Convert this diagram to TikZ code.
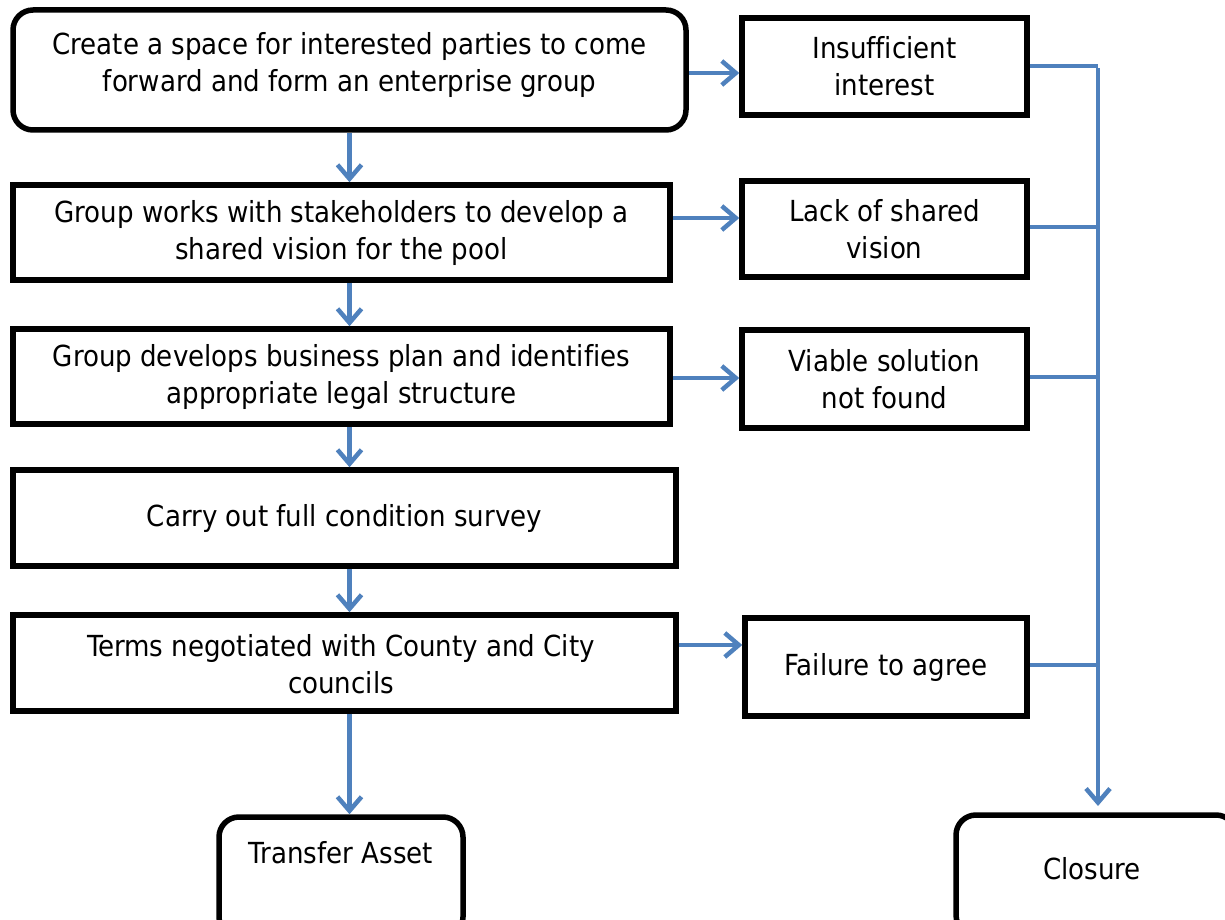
\documentclass[tikz,border=0pt]{standalone}
\usepackage{fontspec}
\setmainfont[Ligatures=NoCommon]{DejaVu Sans Condensed}
\usetikzlibrary{arrows.meta}
\definecolor{flowblue}{HTML}{4F81BD}
\begin{document}
\begin{tikzpicture}[x=1pt,y=-1pt,
  box/.style={draw=black,line width=5.5pt,fill=white,inner sep=0pt,font=\fontsize{29}{37}\selectfont,align=center},
  rbox/.style={box,rounded corners=20pt},
  txt/.style={inner sep=0pt,font=\fontsize{29}{37}\selectfont,align=center},
  flow/.style={draw=flowblue,line width=4.5pt,-{Straight Barb[length=14pt,width=24pt,line width=4.5pt]}},
  link/.style={draw=flowblue,line width=4.5pt}]
\useasboundingbox (0,0) rectangle (1225,920);
% main column
\node[rbox,minimum width=673pt,minimum height=120pt] (b1) at (349.5,70) {};
\node[txt] (t1) at (349.5,65) {Create a space for interested parties to come\\forward and form an enterprise group};
\node[box,minimum width=657pt,minimum height=95pt] (b2) at (341.5,232.5) {Group works with stakeholders to develop a\\shared vision for the pool};
\node[box,minimum width=657pt,minimum height=95pt] (b3) at (341.5,376.5) {Group develops business plan and identifies\\appropriate legal structure};
\node[box,minimum width=663pt,minimum height=96pt] (b4) at (344.5,518) {Carry out full condition survey};
\node[box,minimum width=663pt,minimum height=96pt] (b5) at (344.5,663) {};
\node[txt] (t5) at (341,664) {Terms negotiated with County and City\\councils};
\node[rbox,minimum width=244pt,minimum height=120pt] (ta) at (341,877) {};
\node[txt] (tat) at (341,853) {Transfer Asset};
% right column
\node[box,minimum width=285pt,minimum height=97pt] (r1) at (884.5,66.5) {Insufficient\\interest};
\node[box,minimum width=285pt,minimum height=96pt] (r2) at (884.5,229) {Lack of shared\\vision};
\node[box,minimum width=285pt,minimum height=98pt] (r3) at (884.5,379) {Viable solution\\not found};
\node[box,minimum width=282pt,minimum height=98pt] (r5) at (886,667) {Failure to agree};
\node[rbox,minimum width=280pt,minimum height=120pt] (cl) at (1096,875) {};
\node[txt] (clt) at (1092,869) {Closure};
% vertical arrows
\draw[flow] (b1.south -| t1) -- (b2.north -| t1);
\draw[flow] (b2.south -| t1) -- (b3.north -| t1);
\draw[flow] (b3.south -| t1) -- (b4.north -| t1);
\draw[flow] (b4.south -| t1) -- (b5.north -| t1);
\draw[flow] (b5.south -| t1) -- (ta.north -| t1);
% horizontal arrows
\draw[flow] (b1.east |- 0,73) -- (r1.west |- 0,73);
\draw[flow] (b2.east |- 0,218) -- (r2.west |- 0,218);
\draw[flow] (b3.east |- 0,378) -- (r3.west |- 0,378);
\draw[flow] (b5.east |- 0,645) -- (r5.west |- 0,645);
% collector
\coordinate (c1) at (1098,66);
\coordinate (cb) at (1098,806);
\draw[link] (r1.east |- c1) -- (c1);
\draw[flow] ([yshift=-2.25pt]c1) -- (cb);
\draw[link] (r2.east |- 0,227) -- (1098,227);
\draw[link] (r3.east |- 0,377) -- (1098,377);
\draw[link] (r5.east |- 0,665) -- (1098,665);
\end{tikzpicture}
\end{document}
